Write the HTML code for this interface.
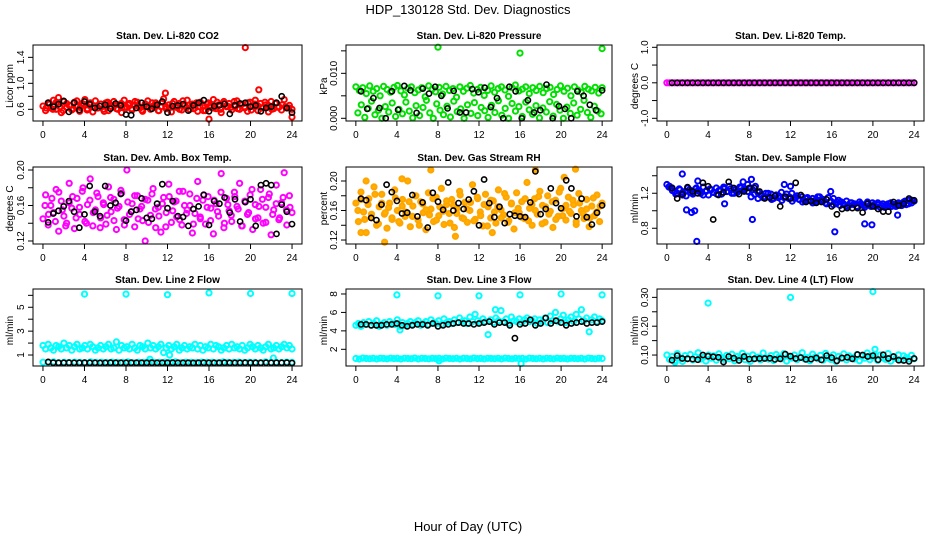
<!DOCTYPE html>
<html><head><meta charset="utf-8">
<style>
html,body{margin:0;padding:0;background:#fff;}
svg{display:block;font-family:"Liberation Sans",Arial,sans-serif;}
</style></head>
<body>
<svg id="chart" width="936" height="540" viewBox="0 0 936 540">
<text x="468" y="14" text-anchor="middle" font-size="13">HDP_130128  Std. Dev. Diagnostics</text>
<text x="468" y="531" text-anchor="middle" font-size="13">Hour of Day (UTC)</text>
</svg>
<script>
// ---------- data ----------
const xTicks = [0,4,8,12,16,20,24];
const co2Red = [0.65,0.58,0.70,0.62,0.74,0.60,0.68,0.55,0.72,0.63,0.66,0.59,0.71,0.64,0.57,0.69,0.75,0.61,0.67,0.56,0.73,0.62,0.68,0.60,
0.70,0.58,0.65,0.72,0.61,0.67,0.55,0.74,0.63,0.69,0.59,0.66,0.71,0.62,0.57,0.68,0.73,0.60,0.65,0.70,0.58,0.64,0.76,0.61,
0.67,0.56,0.72,0.63,0.69,0.59,0.66,0.74,0.60,0.68,0.62,0.57,0.71,0.65,0.58,0.70,0.63,0.75,0.61,0.67,0.55,0.72,0.64,0.69,
0.59,0.66,0.73,0.60,0.68,0.62,0.57,0.71,0.65,0.74,0.58,0.69,0.63,0.67,0.56,0.72,0.61,0.70,0.64,0.59,0.75,0.62,0.66,0.60];
const co2Red2 = [0.62,0.68,0.60,0.71,0.64,0.58,0.69,0.66,0.61,0.73,0.63,0.67,0.59,0.70,0.65,0.62,0.68,0.57,0.71,0.64,0.66,0.60,0.69,0.63,
0.67,0.61,0.72,0.65,0.59,0.68,0.63,0.70,0.66,0.58,0.71,0.64,0.62,0.69,0.65,0.60,0.73,0.63,0.67,0.61,0.70,0.64,0.58,0.68,
0.66,0.62,0.71,0.60,0.69,0.65,0.63,0.72,0.61,0.67,0.64,0.70,0.59,0.68,0.65,0.62,0.71,0.66,0.60,0.69,0.63,0.67,0.64,0.62];
const co2OutHours = [19.5,11.8,20.8,16.0,1.5,24.0];
const co2OutVals = [1.55,0.85,0.90,0.45,0.78,0.48];
const co2Black = [0.70,0.64,0.68,0.73,0.56,0.70,0.59,0.72,0.68,0.62,0.65,0.67,0.61,0.69,0.66,0.52,0.51,0.62,0.70,0.64,0.61,0.67,0.72,0.55,0.65,0.66,0.68,0.58,0.66,0.70,0.74,0.57,0.65,0.66,0.68,0.53,0.66,0.69,0.70,0.64,0.66,0.57,0.62,0.64,0.70,0.80,0.62,0.55];

const presHigh = [0.0070,0.0062,0.0068,0.0055,0.0072,0.0060,0.0066,0.0050,0.0071,0.0064,0.0058,0.0069,0.0073,0.0061,0.0052,0.0067,0.0070,0.0057,0.0063,0.0068,0.0048,0.0072,0.0065,0.0059,
0.0069,0.0054,0.0071,0.0062,0.0066,0.0047,0.0070,0.0060,0.0067,0.0073,0.0056,0.0064,0.0069,0.0051,0.0062,0.0072,0.0058,0.0066,0.0070,0.0063,0.0049,0.0068,0.0074,0.0061,
0.0065,0.0070,0.0055,0.0068,0.0062,0.0071,0.0057,0.0066,0.0069,0.0053,0.0064,0.0072,0.0060,0.0067,0.0050,0.0070,0.0063,0.0058,0.0071,0.0065,0.0061,0.0069,0.0056,0.0068];
const presLow = [0.0012,0.0030,0.0002,0.0022,0.0038,0.0008,0.0018,0.0000,0.0026,0.0014,0.0034,0.0004,0.0020,0.0010,0.0036,0.0016,0.0001,0.0028,0.0006,0.0024,0.0040,0.0012,0.0000,0.0032,
0.0018,0.0008,0.0027,0.0003,0.0038,0.0015,0.0021,0.0000,0.0030,0.0011,0.0035,0.0006,0.0024,0.0017,0.0002,0.0029,0.0013,0.0039,0.0007,0.0022,0.0000,0.0033,0.0016,0.0026,
0.0004,0.0036,0.0019,0.0009,0.0028,0.0001,0.0023,0.0014,0.0037,0.0005,0.0031,0.0018,0.0000,0.0025,0.0011,0.0034,0.0007,0.0020,0.0040,0.0013,0.0002,0.0027,0.0016,0.0010];
const presOutHours = [8.0,16.0,24.0];
const presOutVals = [0.0158,0.0145,0.0155];
const presBlack = [0.0060,0.0021,0.0045,0.0023,0.0000,0.0060,0.0019,0.0072,0.0062,0.0012,0.0066,0.0055,0.0070,0.0050,0.0022,0.0061,0.0013,0.0013,0.0065,0.0058,0.0068,0.0025,0.0045,0.0000,0.0070,0.0060,0.0000,0.0040,0.0013,0.0018,0.0075,0.0000,0.0027,0.0021,0.0000,0.0060,0.0050,0.0030,0.0018,0.0062];

const tempMag = [0,0,0,0,0,0,0,0,0,0,0,0,0,0,0,0,0,0,0,0,0,0,0,0,0,0,0,0,0,0,0,0,0,0,0,0,0,0,0,0,0,0,0,0,0,0,0,0,0,0,0,0,0,0,0,0,0,0,0,0,0,0,0,0,0,0,0,0,0,0,0,0,0,0,0,0,0,0,0,0,0,0,0,0,0,0,0,0,0,0,0,0,0,0,0,0];
const tempBlack = [0,0,0,0,0,0,0,0,0,0,0,0,0,0,0,0,0,0,0,0,0,0,0,0,0,0,0,0,0,0,0,0,0,0,0,0,0,0,0,0,0,0,0,0,0,0,0,0];

const boxMag = [0.145,0.172,0.138,0.160,0.152,0.178,0.131,0.165,0.148,0.140,0.185,0.157,0.134,0.168,0.150,0.176,0.142,0.161,0.190,0.137,0.155,0.170,0.146,0.163,
0.139,0.181,0.153,0.167,0.133,0.159,0.174,0.144,0.200,0.150,0.162,0.136,0.171,0.156,0.143,0.120,0.166,0.149,0.179,0.135,0.158,0.130,0.169,0.152,
0.184,0.141,0.164,0.147,0.176,0.138,0.160,0.155,0.173,0.129,0.151,0.187,0.145,0.166,0.139,0.170,0.157,0.128,0.162,0.148,0.196,0.135,0.168,0.154,
0.142,0.175,0.159,0.185,0.137,0.165,0.150,0.172,0.133,0.161,0.146,0.178,0.140,0.158,0.169,0.127,0.155,0.183,0.144,0.163,0.197,0.138,0.171,0.152];
const boxMag2 = [0.160,0.150,0.168,0.142,0.175,0.155,0.137,0.163,0.170,0.146,0.158,0.180,0.140,0.166,0.152,0.174,0.135,0.161,0.149,0.169,0.143,0.157,0.177,0.138,
0.164,0.153,0.171,0.145,0.159,0.167,0.141,0.173,0.156,0.148,0.162,0.136,0.170,0.154,0.165,0.144,0.176,0.151,0.160,0.139,0.168,0.147,0.172,0.158,
0.143,0.166,0.153,0.175,0.140,0.161,0.149,0.170,0.156,0.137,0.164,0.152,0.178,0.145,0.159,0.167,0.141,0.173,0.150,0.162,0.146,0.169,0.155,0.158];
const boxBlack = [0.141,0.151,0.154,0.159,0.165,0.153,0.135,0.150,0.182,0.153,0.148,0.182,0.160,0.163,0.173,0.143,0.153,0.155,0.168,0.146,0.145,0.162,0.184,0.157,0.165,0.148,0.147,0.137,0.156,0.159,0.172,0.138,0.165,0.162,0.169,0.152,0.167,0.142,0.164,0.167,0.137,0.183,0.185,0.183,0.128,0.161,0.153,0.139];

const rhOrange = [0.170,0.145,0.185,0.158,0.130,0.176,0.150,0.192,0.140,0.165,0.182,0.155,0.136,0.170,0.148,0.188,0.160,0.143,0.175,0.152,0.200,0.138,0.166,0.180,
0.147,0.172,0.157,0.134,0.184,0.162,0.145,0.178,0.153,0.190,0.141,0.168,0.156,0.175,0.137,0.163,0.186,0.150,0.171,0.144,0.160,0.195,0.148,0.176,
0.158,0.139,0.182,0.165,0.150,0.173,0.143,0.188,0.161,0.154,0.178,0.146,0.169,0.135,0.184,0.157,0.172,0.149,0.198,0.163,0.140,0.176,0.155,0.186,
0.167,0.144,0.180,0.159,0.137,0.174,0.152,0.190,0.163,0.147,0.178,0.156,0.168,0.141,0.183,0.160,0.149,0.175,0.138,0.166,0.153,0.181,0.145,0.170];
const rhOrange2 = [0.160,0.175,0.148,0.168,0.155,0.182,0.142,0.170,0.157,0.164,0.150,0.177,0.145,0.166,0.158,0.172,0.152,0.180,0.140,0.169,0.161,0.154,0.176,0.147,
0.165,0.159,0.173,0.143,0.167,0.156,0.181,0.149,0.162,0.171,0.146,0.178,0.153,0.168,0.139,0.174,0.158,0.165,0.150,0.183,0.144,0.170,0.157,0.163,
0.151,0.176,0.146,0.168,0.160,0.179,0.142,0.165,0.155,0.172,0.148,0.185,0.153,0.167,0.159,0.174,0.145,0.170,0.156,0.162,0.150,0.177,0.158,0.166];
const rhOutHours = [0.5,1.0,2.8,4.5,7.3,9.7,13.3,17.5,21.4,20.3];
const rhOutVals = [0.130,0.200,0.117,0.203,0.215,0.125,0.130,0.215,0.216,0.205];
const rhBlack = [0.176,0.174,0.150,0.147,0.168,0.195,0.185,0.173,0.156,0.157,0.181,0.152,0.171,0.137,0.184,0.172,0.161,0.198,0.160,0.170,0.162,0.175,0.186,0.140,0.202,0.170,0.151,0.165,0.143,0.155,0.153,0.152,0.151,0.171,0.213,0.155,0.162,0.190,0.170,0.163,0.201,0.190,0.152,0.176,0.151,0.141,0.157,0.167];

const flowBlue = [1.30,1.28,1.26,1.22,1.20,1.24,1.18,1.22,1.26,1.21,1.19,1.25,1.23,1.20,1.27,1.22,1.18,1.24,1.21,1.26,1.23,1.19,1.25,1.22,
1.28,1.20,1.24,1.21,1.27,1.23,1.25,1.22,1.26,1.24,1.28,1.21,1.18,1.15,1.20,1.16,1.19,1.14,1.18,1.17,1.21,1.15,1.19,1.16,
1.20,1.14,1.17,1.13,1.16,1.11,1.15,1.12,1.14,1.10,1.16,1.12,1.13,1.09,1.15,1.11,1.14,1.08,1.12,1.10,1.07,1.11,1.06,1.09,
1.08,1.05,1.10,1.07,1.04,1.08,1.06,1.09,1.05,1.07,1.04,1.08,1.06,1.05,1.09,1.07,1.05,1.08,1.06,1.10,1.07,1.12,1.09,1.11];
const flowBlue2 = [1.27,1.23,1.19,1.25,1.21,1.17,1.24,1.20,1.26,1.22,1.18,1.23,1.25,1.21,1.19,1.24,1.27,1.22,1.25,1.20,1.23,1.26,1.24,1.30,
1.16,1.19,1.14,1.18,1.16,1.20,1.13,1.17,1.15,1.12,1.16,1.14,1.11,1.15,1.13,1.10,1.14,1.12,1.09,1.13,1.16,1.11,1.08,1.10,
1.07,1.10,1.06,1.08,1.05,1.09,1.07,1.04,1.08,1.06,1.10,1.05,1.07,1.09,1.06,1.04,1.08,1.05,1.07,1.09,1.06,1.11,1.08,1.12];
const flowOutHours = [1.5,2.7,2.9,3.0,7.4,8.2,8.3,11.4,12.0,15.9,16.3,19.2,19.9,22.4,1.9,2.4,5.6];
const flowOutVals = [1.42,1.00,0.65,1.34,1.33,1.36,0.90,1.30,1.28,1.22,0.76,0.85,0.84,0.95,1.01,0.98,1.08];
const flowBlack = [1.26,1.14,1.19,1.27,1.22,1.20,1.32,1.28,0.90,1.18,1.21,1.33,1.26,1.19,1.22,1.26,1.26,1.22,1.14,1.15,1.17,1.05,1.16,1.14,1.32,1.18,1.10,1.11,1.09,1.10,1.13,1.05,0.96,1.02,1.03,1.03,1.03,0.98,1.08,1.05,1.02,0.99,0.99,1.10,1.06,1.08,1.14,1.12];

const l2Cyan = [1.8,1.5,1.9,1.6,1.4,1.8,1.7,1.5,2.0,1.6,1.8,1.4,1.7,1.9,1.5,1.6,1.8,1.5,1.9,1.7,1.4,1.6,1.8,1.5,
1.7,1.9,1.5,1.6,2.1,1.4,1.8,1.6,1.7,1.5,1.9,1.6,1.4,1.8,1.7,1.5,2.0,1.6,1.8,1.5,1.7,1.9,1.2,1.6,
1.8,1.5,1.7,1.9,1.4,1.6,1.8,1.5,1.7,1.6,1.9,1.5,1.8,1.4,1.7,1.6,1.9,1.5,1.8,1.7,1.4,1.6,1.8,1.5,
1.9,1.6,1.7,1.5,1.8,1.4,1.6,1.9,1.7,1.5,1.8,1.6,1.4,1.7,1.9,1.5,1.6,1.8,1.5,1.7,1.9,1.6,1.8,1.5];
const l2CyanLow = [0.40,0.38,0.42,0.36,0.40,0.37,0.41,0.39,0.36,0.42,0.38,0.40,0.37,0.41,0.39,0.38,0.42,0.36,0.40,0.38,0.41,0.37,0.39,0.40,
0.38,0.42,0.36,0.40,0.39,0.37,0.41,0.38,0.40,0.36,0.42,0.39,0.38,0.41,0.37,0.40,0.39,0.36,0.42,0.38,0.40,0.37,0.41,0.39];
const l2OutHours = [4,8,12,16,20,24,10.3,12.2,22.2];
const l2OutVals = [6.1,6.1,6.05,6.2,6.15,6.15,0.65,1.0,0.75];
const l2Black = [0.42,0.36,0.35,0.35,0.36,0.35,0.35,0.36,0.35,0.35,0.34,0.35,0.36,0.35,0.35,0.35,0.36,0.35,0.35,0.35,0.36,0.35,0.35,0.35,0.36,0.35,0.35,0.35,0.34,0.35,0.36,0.35,0.35,0.35,0.36,0.35,0.35,0.35,0.36,0.35,0.35,0.35,0.36,0.35,0.35,0.35,0.36,0.33];

const l3Cyan = [4.6,4.8,4.5,4.9,4.7,5.0,4.6,4.8,5.1,4.5,4.7,4.9,4.6,5.0,4.8,4.7,5.2,4.5,4.9,4.6,4.8,5.0,4.7,4.9,
5.1,4.6,4.8,5.0,4.7,5.2,4.9,4.8,5.1,4.7,5.3,4.9,5.0,4.8,5.2,4.9,5.4,5.0,5.1,4.8,5.5,5.0,5.8,5.1,
4.9,5.3,5.0,3.6,5.2,4.9,5.4,5.1,6.2,5.0,5.3,4.8,5.5,5.1,5.0,5.3,4.9,5.2,5.4,5.0,5.1,5.3,4.8,5.2,
5.0,5.4,4.9,5.6,5.1,6.0,5.0,5.3,5.7,4.9,5.2,5.5,5.0,5.8,5.3,6.3,5.1,5.4,3.9,5.2,5.5,5.0,5.3,5.1];
const l3CyanLow = [1.0,0.95,1.05,1.0,0.98,1.03,0.96,1.02,1.0,0.97,1.04,0.99,1.01,0.95,1.03,1.0,0.98,1.05,0.96,1.02,1.0,0.97,1.03,0.99,
1.01,0.96,1.04,1.0,0.98,1.02,0.95,1.03,1.0,0.97,1.05,0.99,1.01,0.96,1.03,1.0,0.98,1.02,0.96,1.04,1.0,0.97,1.03,0.99,
1.01,0.95,1.04,1.0,0.98,1.03,0.96,1.02,1.0,0.97,1.04,0.99,1.01,0.96,1.03,1.0,0.98,1.02,0.95,1.04,1.0,0.97,1.03,1.0];
const l3OutHours = [4,8,12,16,20,24,8.1,16.1,4.3,13.6];
const l3OutVals = [7.9,7.8,7.8,7.9,8.0,7.9,0.75,0.45,4.1,6.3];
const l3Black = [4.7,4.7,4.6,4.6,4.6,4.7,4.7,4.8,4.6,4.5,4.6,4.7,4.7,4.6,4.8,4.5,4.6,4.7,4.8,4.9,4.8,4.8,4.7,4.8,4.9,5.0,4.7,4.9,4.9,4.6,3.2,4.7,4.8,5.2,4.6,4.8,5.4,4.8,5.1,4.9,4.6,4.8,4.9,5.0,4.8,4.9,4.9,5.0];

const l4Cyan = [0.100,0.085,0.095,0.080,0.105,0.090,0.078,0.098,0.088,0.102,0.083,0.094,0.108,0.086,0.092,0.079,0.100,0.089,0.097,0.082,0.104,0.091,0.085,0.099,
0.087,0.103,0.080,0.095,0.090,0.106,0.084,0.096,0.078,0.101,0.088,0.093,0.083,0.107,0.090,0.086,0.098,0.081,0.102,0.092,0.087,0.105,0.079,0.096,
0.089,0.100,0.084,0.094,0.108,0.086,0.091,0.080,0.103,0.093,0.087,0.099,0.082,0.106,0.090,0.085,0.101,0.078,0.095,0.088,0.104,0.083,0.097,0.091,
0.086,0.102,0.080,0.096,0.089,0.107,0.084,0.093,0.099,0.081,0.100,0.090,0.085,0.105,0.079,0.094,0.088,0.101,0.083,0.097,0.091,0.086,0.099,0.087];
const l4OutHours = [4.0,12.0,20.0,20.2,0.8];
const l4OutVals = [0.280,0.300,0.320,0.120,0.075];
const l4Black = [0.082,0.098,0.088,0.087,0.086,0.084,0.100,0.096,0.094,0.092,0.076,0.095,0.089,0.081,0.095,0.086,0.087,0.088,0.088,0.089,0.085,0.087,0.103,0.096,0.088,0.091,0.085,0.086,0.090,0.083,0.098,0.091,0.080,0.090,0.092,0.087,0.102,0.100,0.095,0.098,0.084,0.101,0.088,0.095,0.082,0.081,0.078,0.088];

// ---------- layout ----------
const cols = [{l:33,r:302,lab:10},{l:346,r:612,lab:324},{l:657,r:924,lab:635}];
const rows = [{t:45,b:121},{t:167,b:244},{t:289,b:366}];
const NS='http://www.w3.org/2000/svg';
const svg=document.getElementById('chart');
function mk(tag,attrs,parent){const e=document.createElementNS(NS,tag);for(const k in attrs)e.setAttribute(k,attrs[k]);(parent||svg).appendChild(e);return e;}

const panels = [
 {key:'co2',col:0,row:0,title:'Stan. Dev. Li-820 CO2',ylab:'Licor ppm',lo:0.42,hi:1.59,ticks:[0.6,0.8,1.0,1.2,1.4],labels:[0.6,1.0,1.4],fmt:1,
  series:[{v:co2Red,c:'#ff0000'},{v:co2Red2,c:'#ff0000',s:0.3,e:23.7},{h:co2OutHours,v:co2OutVals,c:'#ff0000'},{v:co2Black,c:'#000',s:0.5,e:24}]},
 {key:'pressure',col:1,row:0,title:'Stan. Dev. Li-820 Pressure',ylab:'kPa',lo:-0.0006,hi:0.0163,ticks:[0,0.005,0.010,0.015],labels:[0,0.010],fmt:3,
  series:[{v:presHigh,c:'#00e000'},{v:presLow,c:'#00e000',s:0.2,e:23.9},{h:presOutHours,v:presOutVals,c:'#00e000'},{v:presBlack,c:'#000',s:0.5,e:24}]},
 {key:'temp',col:2,row:0,title:'Stan. Dev. Li-820 Temp.',ylab:'degrees C',lo:-1.076,hi:1.065,ticks:[-1,-0.5,0,0.5,1],labels:[-1,0,1],fmt:1,
  series:[{v:tempMag,c:'#ff00ff'},{v:tempBlack,c:'#000',s:0.5,e:24}]},
 {key:'boxtemp',col:0,row:1,title:'Stan. Dev. Amb. Box Temp.',ylab:'degrees C',lo:0.1166,hi:0.2034,ticks:[0.12,0.14,0.16,0.18,0.20],labels:[0.12,0.16,0.20],fmt:2,
  series:[{v:boxMag,c:'#ff00ff'},{v:boxMag2,c:'#ff00ff',s:0.2,e:23.8},{v:boxBlack,c:'#000',s:0.5,e:24}]},
 {key:'rh',col:1,row:1,title:'Stan. Dev. Gas Stream RH',ylab:'percent',lo:0.1146,hi:0.219,ticks:[0.12,0.14,0.16,0.18,0.20],labels:[0.12,0.16,0.20],fmt:2,
  series:[{v:rhOrange,c:'#ffa500',f:'#ffb000'},{v:rhOrange2,c:'#ffa500',f:'#ffb000',s:0.2,e:23.8},{h:rhOutHours,v:rhOutVals,c:'#ffa500',f:'#ffb000'},{v:rhBlack,c:'#000',s:0.5,e:24}]},
 {key:'sampleflow',col:2,row:1,title:'Stan. Dev. Sample Flow',ylab:'ml/min',lo:0.62,hi:1.50,ticks:[0.8,1.0,1.2,1.4],labels:[0.8,1.2],fmt:1,
  series:[{v:flowBlue,c:'#0000ff'},{v:flowBlue2,c:'#0000ff',s:0.2,e:23.8},{h:flowOutHours,v:flowOutVals,c:'#0000ff'},{v:flowBlack,c:'#000',s:0.5,e:24}]},
 {key:'line2',col:0,row:2,title:'Stan. Dev. Line 2 Flow',ylab:'ml/min',lo:0.08,hi:6.53,ticks:[1,2,3,4,5,6],labels:[1,3,5],fmt:0,
  series:[{v:l2Cyan,c:'#00ffff'},{v:l2CyanLow,c:'#00ffff'},{h:l2OutHours,v:l2OutVals,c:'#00ffff'},{v:l2Black,c:'#000',s:0.5,e:24}]},
 {key:'line3',col:1,row:2,title:'Stan. Dev. Line 3 Flow',ylab:'ml/min',lo:0.19,hi:8.54,ticks:[2,4,6,8],labels:[2,4,6,8],fmt:0,
  series:[{v:l3Cyan,c:'#00ffff'},{v:l3CyanLow,c:'#00ffff'},{h:l3OutHours,v:l3OutVals,c:'#00ffff'},{v:l3Black,c:'#000',s:0.5,e:24}]},
 {key:'line4',col:2,row:2,title:'Stan. Dev. Line 4 (LT) Flow',ylab:'ml/min',lo:0.062,hi:0.329,ticks:[0.10,0.15,0.20,0.25,0.30],labels:[0.10,0.20,0.30],fmt:2,
  series:[{v:l4Cyan,c:'#00ffff'},{h:l4OutHours,v:l4OutVals,c:'#00ffff'},{v:l4Black,c:'#000',s:0.5,e:24}]}
];

panels.forEach(p=>{
  const C=cols[p.col], R=rows[p.row];
  const xs=h=>C.l+(h+0.96)/(25.92)*(C.r-C.l);
  const ys=v=>R.b-(v-p.lo)/(p.hi-p.lo)*(R.b-R.t);
  const g=mk('g',{});
  
  
  const t=mk('text',{x:(C.l+C.r)/2,y:R.t-6,'text-anchor':'middle','font-size':'10','font-weight':'bold'},g);
  t.textContent=p.title;
  
  
  const yl=mk('text',{x:C.lab,y:(R.t+R.b)/2,'text-anchor':'middle','font-size':'10',transform:`rotate(-90 ${C.lab+3} ${(R.t+R.b)/2})`},g);
  yl.textContent=p.ylab;
  
  
  const mg=mk('g',{'fill':'none'},g);
  
  
  p.series.forEach(s=>{
    const n=s.v.length, st=s.s!==undefined?s.s:0, en=s.e!==undefined?s.e:24;
    const sw = s.c==='#000' ? '1.6' : '2';
    s.v.forEach((v,i)=>{
      const h=s.h?s.h[i]:st+(n>1?i*(en-st)/(n-1):0);
      const c=mk('circle',{cx:xs(h).toFixed(1),cy:ys(v).toFixed(1),r:'2.6',stroke:s.c,'stroke-width':sw,fill:s.f||'none'},mg);
      
      
    });
  });
  const bx=mk('rect',{x:C.l,y:R.t,width:C.r-C.l,height:R.b-R.t,fill:'none',stroke:'#000','stroke-width':'1'},g);
  
  
  const xa=mk('g',{stroke:'#000','stroke-width':'1'},g);
  
  
  mk('line',{x1:xs(0),x2:xs(24),y1:R.b,y2:R.b},xa);
  xTicks.forEach(h=>{
    mk('line',{x1:xs(h),x2:xs(h),y1:R.b,y2:R.b+5},xa);
    const tl=mk('text',{x:xs(h),y:R.b+17,'text-anchor':'middle','font-size':'10',stroke:'none'},xa);
    tl.textContent=h;
    
    
  });
  const ya=mk('g',{stroke:'#000','stroke-width':'1'},g);
  
  
  mk('line',{x1:C.l,x2:C.l,y1:ys(p.ticks[0]),y2:ys(p.ticks[p.ticks.length-1])},ya);
  p.ticks.forEach(v=>mk('line',{x1:C.l-5,x2:C.l,y1:ys(v),y2:ys(v)},ya));
  p.labels.forEach(v=>{
    const x=C.l-9, y=ys(v);
    const tl=mk('text',{x:x,y:y,'text-anchor':'middle','font-size':'10',stroke:'none',transform:`rotate(-90 ${x} ${y})`},ya);
    tl.textContent=v.toFixed(p.fmt);
    
    
  });
});
</script>
</body></html>
